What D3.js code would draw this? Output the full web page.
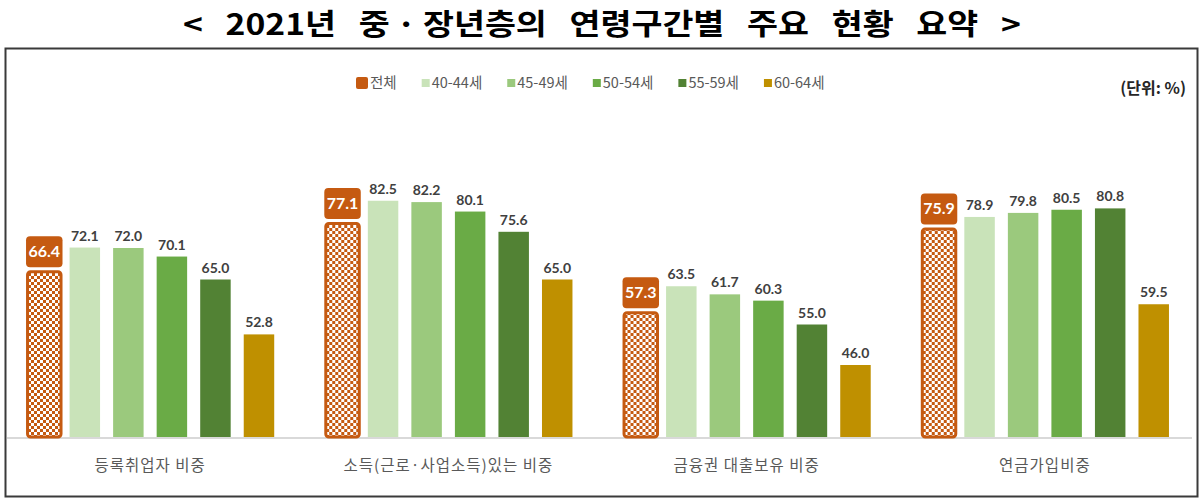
<!DOCTYPE html>
<html>
<head>
<meta charset="utf-8">
<script src="https://cdn.jsdelivr.net/npm/d3@7"></script>
<style>
  body { margin: 0; background: #fff; }
  svg { display: block; }
</style>
</head>
<body>
<div id="chart"></div>
<script>
// data
const categories = ["등록취업자 비중", "소득(근로·사업소득)있는 비중", "금융권 대출보유 비중", "연금가입비중"];
const seriesNames = ["전체", "40-44세", "45-49세", "50-54세", "55-59세", "60-64세"];
const total = [66.4, 77.1, 57.3, 75.9];
const age4044 = [72.1, 82.5, 63.5, 78.9];
const age4549 = [72.0, 82.2, 61.7, 79.8];
const age5054 = [70.1, 80.1, 60.3, 80.5];
const age5559 = [65.0, 75.6, 55.0, 80.8];
const age6064 = [52.8, 65.0, 46.0, 59.5];
const colors = ["#C55A11", "#C9E3B9", "#9BC97D", "#6AAB46", "#528234", "#BF9000"];

const values = [total, age4044, age4549, age5054, age5559, age6064];
const W = 1204, H = 500;
const baseY = 437;

const svg = d3.select("#chart").append("svg")
  .attr("width", W).attr("height", H)
  .style("font-family", "'Noto Sans CJK KR', sans-serif");

// checker pattern for the 전체 bar
const defs = svg.append("defs");
const pat = defs.append("pattern")
  .attr("id", "checker")
  .attr("width", 6).attr("height", 6)
  .attr("patternUnits", "userSpaceOnUse");
pat.append("rect").attr("width", 6).attr("height", 6).attr("fill", "#fff");
pat.append("rect").attr("width", 3).attr("height", 3).attr("fill", colors[0]);
pat.append("rect").attr("x", 3).attr("y", 3).attr("width", 3).attr("height", 3).attr("fill", colors[0]);

// title - tall condensed look: draw wide, then squeeze to fit
const title = svg.append("text")
  .attr("x", 0).attr("y", 0)
  .attr("font-size", 29)
  .attr("font-weight", 700)
  .attr("word-spacing", 13)
  .attr("fill", "#000")
  .text("< 2021년 중\u2009·\u2009장년층의 연령구간별 주요 현황 요약 >");
const tLen = title.node().getComputedTextLength();
title.attr("transform", `translate(183,35) scale(${838 / tLen},1)`);

// frame
svg.append("rect")
  .attr("x", 5.5).attr("y", 48.5)
  .attr("width", 1192).attr("height", 448)
  .attr("fill", "none")
  .attr("stroke", "#3a3a3a")
  .attr("stroke-width", 2);

// scales
const x0 = d3.scaleBand().domain(categories).range([1, 1194]).padding(0);
const x1 = d3.scaleBand().domain(seriesNames).range([0, x0.bandwidth()])
  .paddingInner(0.3).paddingOuter(0.575);
const y = d3.scaleLinear().domain([30, 90]).range([baseY, baseY - 270]);

// baseline
svg.append("line")
  .attr("x1", 7).attr("x2", 1192)
  .attr("y1", baseY + 1).attr("y2", baseY + 1)
  .attr("stroke", "#D9D9D9").attr("stroke-width", 2);

const groups = svg.append("g").selectAll("g")
  .data(categories)
  .join("g")
  .attr("transform", d => `translate(${x0(d)},0)`);

// green / gold bars
seriesNames.forEach((s, si) => {
  if (si === 0) return;
  groups.append("rect")
    .attr("x", x1(s))
    .attr("y", (d, i) => y(values[si][i]))
    .attr("width", x1.bandwidth())
    .attr("height", (d, i) => baseY - y(values[si][i]))
    .attr("fill", colors[si]);
  groups.append("text")
    .attr("x", x1(s) + x1.bandwidth() / 2)
    .attr("y", (d, i) => y(values[si][i]) - 7)
    .attr("text-anchor", "middle")
    .attr("font-family", "Lato, sans-serif")
    .attr("font-weight", 700)
    .attr("font-size", 14)
    .attr("fill", "#404040")
    .text((d, i) => values[si][i].toFixed(1));
});

// 전체 bar: checker fill, orange outline, label box above
const bw0 = x1.bandwidth() + 6;
groups.append("rect")
  .attr("x", x1(seriesNames[0]) + 1.5)
  .attr("y", (d, i) => y(total[i]) - 1.5)
  .attr("width", bw0 - 3)
  .attr("height", (d, i) => baseY - y(total[i]) + 1.5)
  .attr("rx", 3)
  .attr("fill", "url(#checker)")
  .attr("stroke", colors[0])
  .attr("stroke-width", 3);

groups.append("rect")
  .attr("x", x1(seriesNames[0]))
  .attr("y", (d, i) => y(total[i]) - 37)
  .attr("width", bw0)
  .attr("height", 31)
  .attr("rx", 4)
  .attr("fill", colors[0]);

groups.append("text")
  .attr("x", x1(seriesNames[0]) + bw0 / 2)
  .attr("y", (d, i) => y(total[i]) - 16)
  .attr("text-anchor", "middle")
  .attr("font-family", "Lato, sans-serif")
  .attr("font-weight", 700)
  .attr("font-size", 16)
  .attr("fill", "#fff")
  .text((d, i) => total[i].toFixed(1));

// category labels
groups.append("text")
  .attr("x", x0.bandwidth() / 2)
  .attr("y", 471)
  .attr("text-anchor", "middle")
  .attr("font-size", 15.5)
  .attr("letter-spacing", 1)
  .attr("fill", "#595959")
  .text(d => d);

// legend
const legend = svg.append("g").attr("transform", "translate(356,83)");
let lx = 0;
seriesNames.forEach((s, i) => {
  const sz = i === 0 ? 12 : 8;
  legend.append("rect")
    .attr("x", lx)
    .attr("y", -sz / 2)
    .attr("width", sz).attr("height", sz)
    .attr("rx", i === 0 ? 2 : 0)
    .attr("fill", colors[i]);
  const t = legend.append("text")
    .attr("x", lx + sz + 2)
    .attr("y", 5)
    .attr("font-size", 14.5)
    .attr("fill", "#595959")
    .text(s);
  lx += sz + 2 + t.node().getComputedTextLength() + 25;
});

// unit
svg.append("text")
  .attr("x", 1186).attr("y", 94)
  .attr("text-anchor", "end")
  .attr("font-size", 16)
  .attr("font-weight", 700)
  .attr("fill", "#262626")
  .text("(단위: %)");
</script>
</body>
</html>
